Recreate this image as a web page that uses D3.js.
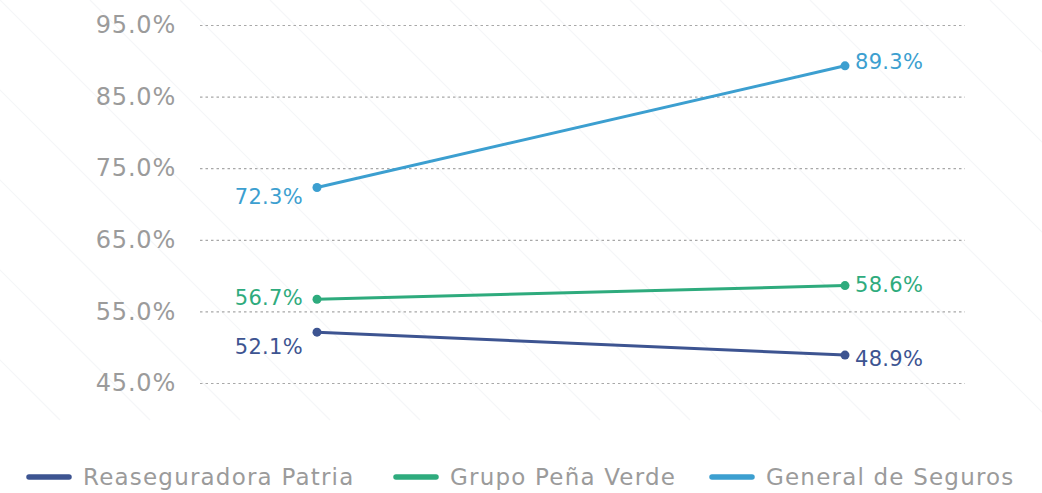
<!DOCTYPE html>
<html><head><meta charset="utf-8">
<script src="https://cdn.jsdelivr.net/npm/d3@7"></script>
<style>
html,body{margin:0;padding:0;background:#fff;}
svg{display:block;font-family:"DejaVu Sans",sans-serif;}
</style></head>
<body><svg id="c" width="1042" height="493"></svg>
<script>
const categories = ["2022", "2023"];
const seriesNames = ["Reaseguradora Patria", "Grupo Peña Verde", "General de Seguros"];
const patria = [52.1, 48.9];
const penaVerde = [56.7, 58.6];
const generalSeguros = [72.3, 89.3];
const yTicks = [45, 55, 65, 75, 85, 95];
const colors = ["#3d5491", "#2eab7d", "#3c9fd0"];
// label vertical nudges (px) for left / right labels per series
const labelDy = [[14, 4], [-2, -1], [9, -4]];

const series = [patria, penaVerde, generalSeguros];
const svg = d3.select("#c");

// faint background diagonal pattern
const bg = svg.append("g").attr("stroke", "#f5f6f8").attr("stroke-width", 1.2).attr("fill", "none");
for (let i = -6; i < 14; i++) {
  const x0 = i * 90;
  bg.append("line").attr("x1", x0).attr("y1", 0).attr("x2", x0 + 420).attr("y2", 420);
}

const x = d3.scalePoint().domain(categories).range([317, 845]);
const y = d3.scaleLinear().domain([45, 95]).range([383, 25]);

// gridlines
const gAxis = svg.append("g").attr("transform", "translate(200,0)");
gAxis.call(d3.axisLeft(y).tickValues(yTicks).tickSize(-765).tickPadding(24)
  .tickFormat(d => d3.format(".1f")(d) + "%"));
gAxis.select(".domain").remove();
gAxis.selectAll(".tick line").attr("stroke", "#a8a8a8").attr("stroke-width", 1.2)
  .attr("stroke-dasharray", "2.5,3");
gAxis.selectAll(".tick text").attr("fill", "#9b9b9b").attr("font-size", 24)
  .attr("letter-spacing", 0.8)
  .attr("font-family", "DejaVu Sans, sans-serif").attr("x", -24);

const line = d3.line().x((d, i) => x(categories[i])).y(d => y(d));

series.forEach((vals, si) => {
  const g = svg.append("g");
  g.append("path").datum(vals).attr("d", line).attr("fill", "none")
    .attr("stroke", colors[si]).attr("stroke-width", 3);
  g.selectAll("circle").data(vals).join("circle")
    .attr("cx", (d, i) => x(categories[i])).attr("cy", d => y(d)).attr("r", 4.5)
    .attr("fill", colors[si]);
  g.selectAll("text").data(vals).join("text")
    .attr("x", (d, i) => x(categories[i]) + (i === 0 ? -14 : 10))
    .attr("y", (d, i) => y(d) + labelDy[si][i])
    .attr("dy", "0.35em")
    .attr("text-anchor", (d, i) => i === 0 ? "end" : "start")
    .attr("fill", colors[si]).attr("font-size", 21).attr("letter-spacing", 0.3)
    .text(d => d3.format(".1f")(d) + "%");
});

// legend
const legX = [27, 394, 710];
const leg = svg.append("g");
seriesNames.forEach((name, i) => {
  leg.append("line").attr("x1", legX[i] + 2).attr("x2", legX[i] + 42)
    .attr("y1", 477).attr("y2", 477).attr("stroke", colors[i])
    .attr("stroke-width", 5.5).attr("stroke-linecap", "round");
  leg.append("text").attr("x", legX[i] + 56).attr("y", 477).attr("dy", "0.35em")
    .attr("fill", "#9b9b9b").attr("font-size", 23).attr("letter-spacing", 1.2).text(name);
});
</script></body></html>
